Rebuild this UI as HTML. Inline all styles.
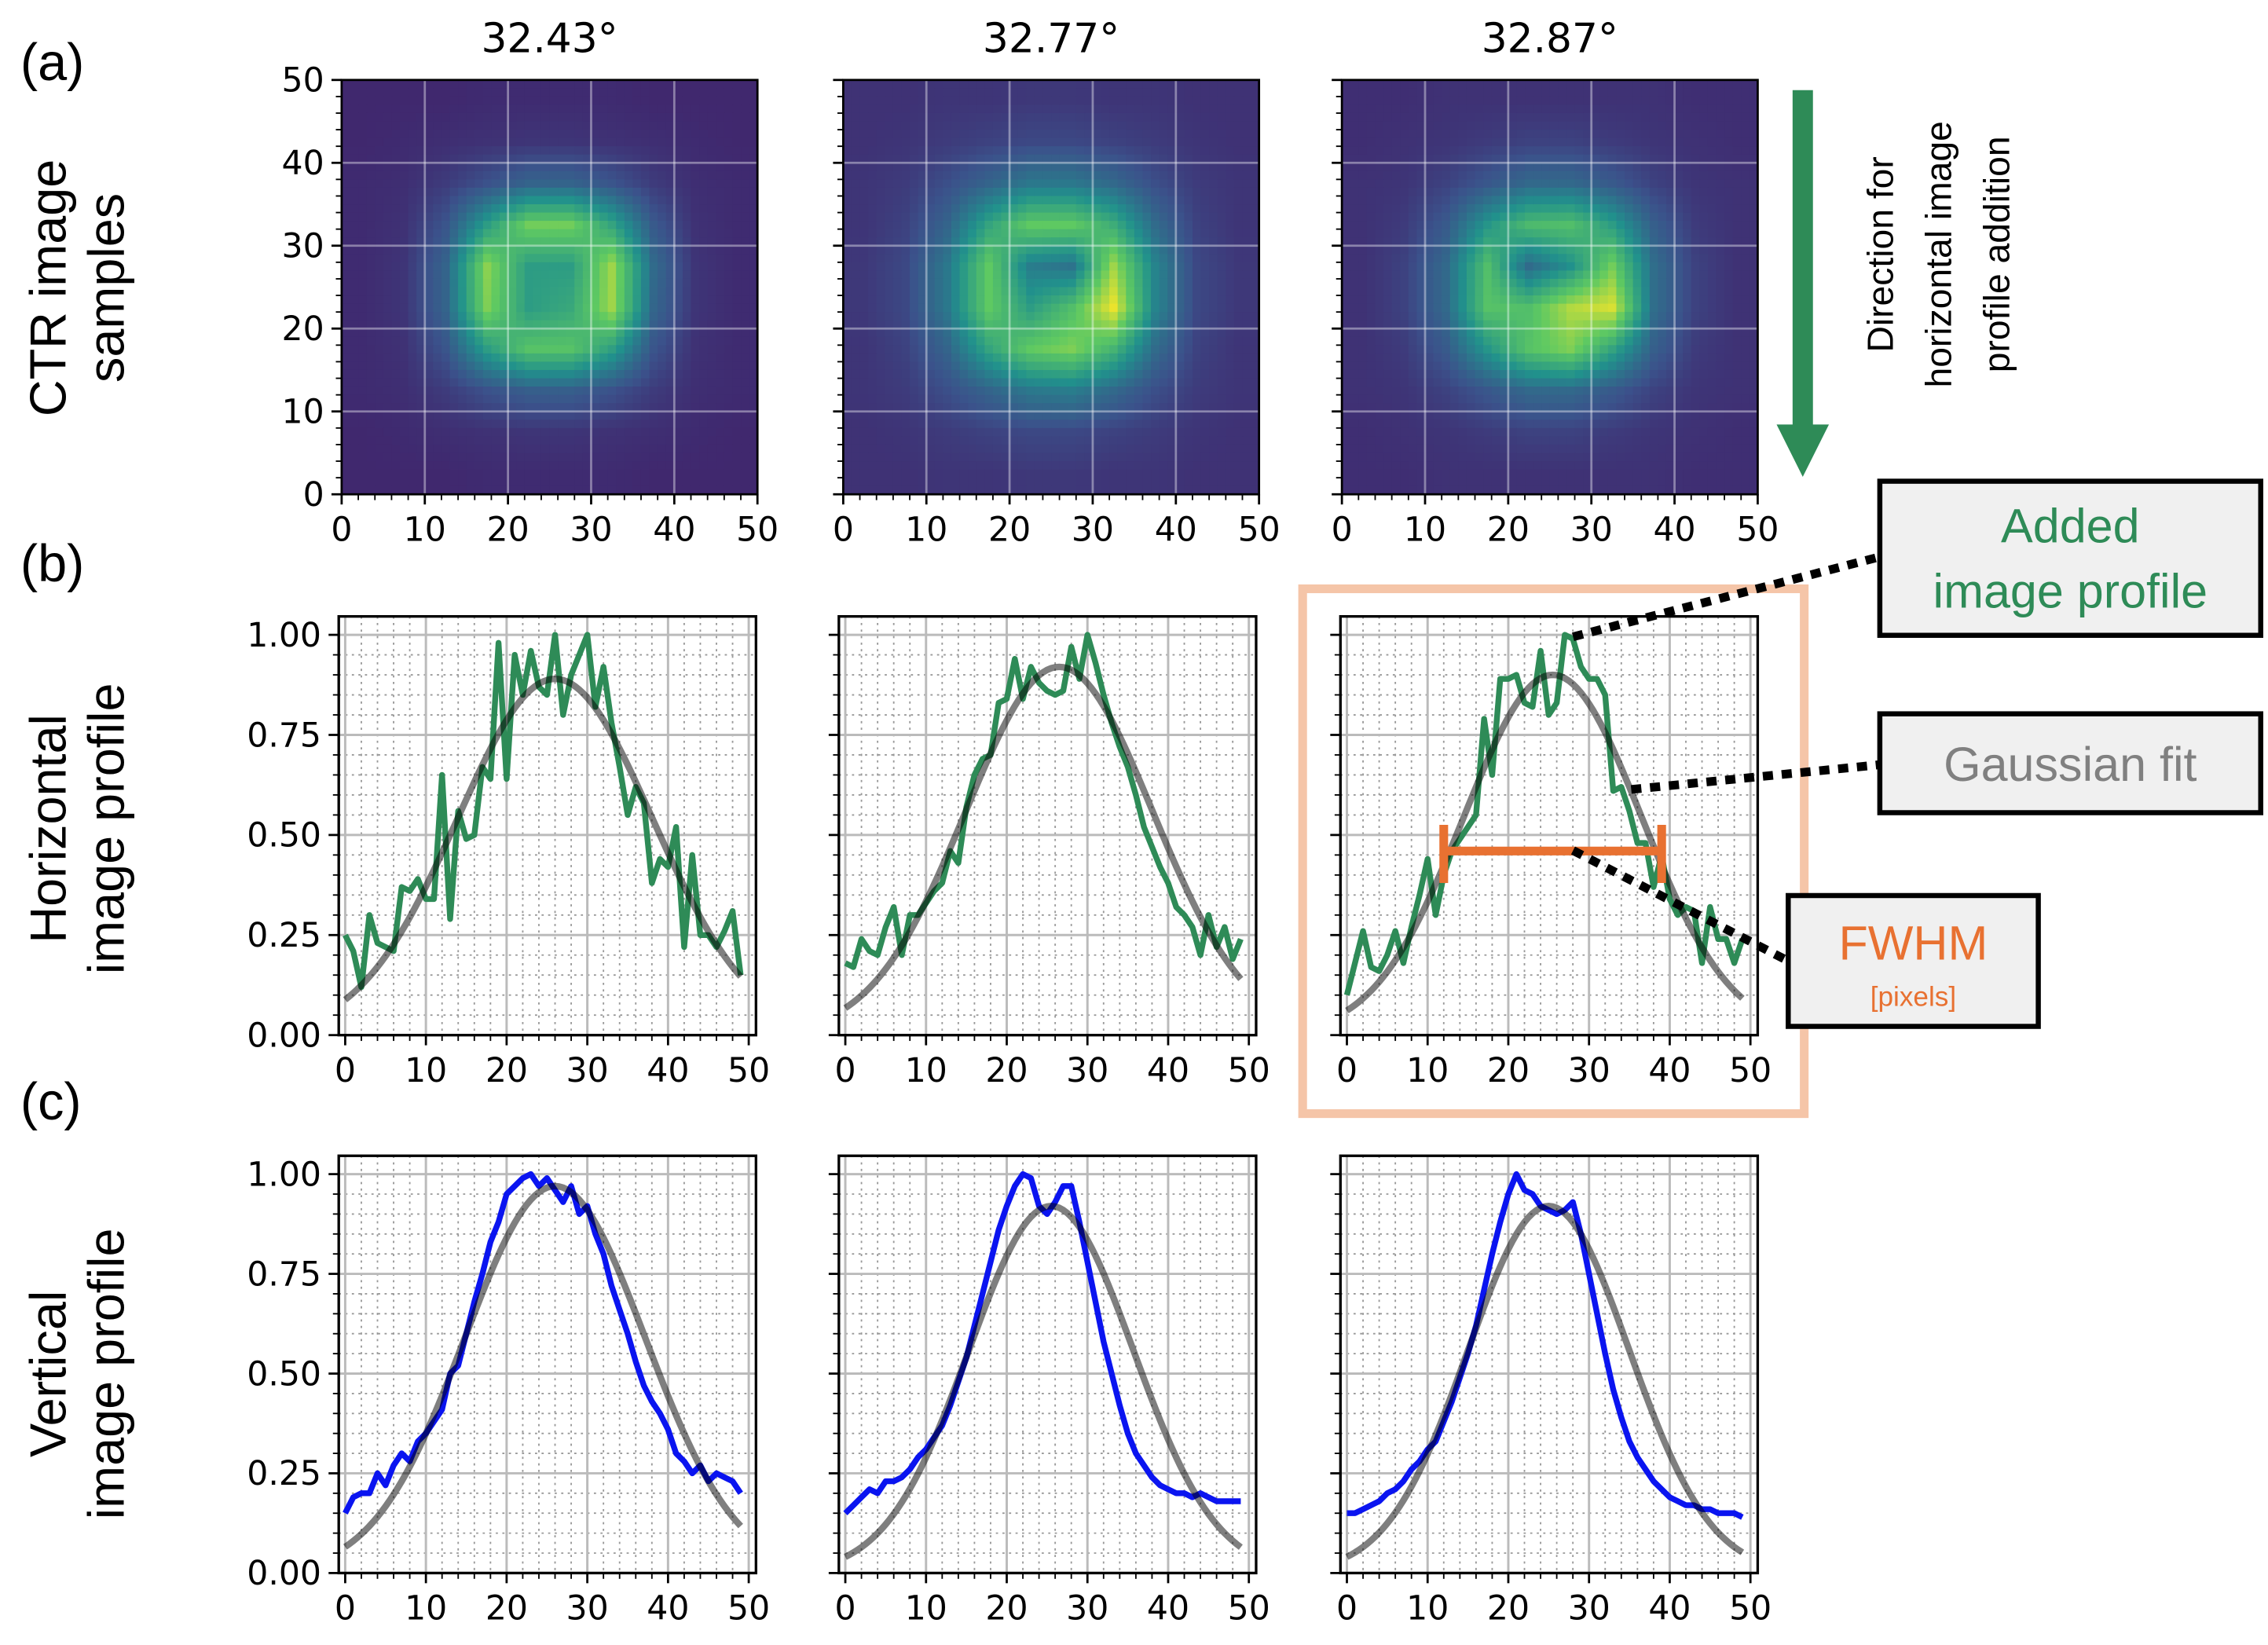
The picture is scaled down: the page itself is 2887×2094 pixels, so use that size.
<!DOCTYPE html>
<html><head><meta charset="utf-8"><style>
html,body{margin:0;padding:0;background:#fff;}
svg{display:block;}
text{font-family:"DejaVu Sans","Liberation Sans",sans-serif;}
.ann{font-family:"Liberation Sans",sans-serif;}
</style></head><body>
<svg id="fig" xmlns="http://www.w3.org/2000/svg" width="2887" height="2094" viewBox="0 0 1560 1131.5" preserveAspectRatio="none">
<rect x="0" y="0" width="1560" height="1131.5" fill="#fff"/>
</svg>
<script>
// ---------- data ----------
const xTicks=[0,10,20,30,40,50];
const yTicksImg=[0,10,20,30,40,50];
const yTicksProf=[0,0.25,0.5,0.75,1.0];
const yTickLabelsProf=["0.00","0.25","0.50","0.75","1.00"];
const titles=["32.43°","32.77°","32.87°"];
// coarse heatmap intensities (rows top->bottom, 10x10, upsampled to 50x50)
const heat1=[
[.12,.12,.12,.13,.13,.13,.13,.12,.12,.12],
[.12,.13,.14,.15,.16,.16,.15,.14,.13,.12],
[.13,.14,.18,.25,.32,.32,.26,.18,.14,.13],
[.13,.15,.26,.55,.78,.78,.58,.28,.15,.13],
[.13,.16,.32,.82,.55,.55,.85,.35,.16,.13],
[.13,.16,.32,.8,.55,.6,.85,.33,.16,.13],
[.13,.15,.26,.55,.72,.72,.56,.26,.15,.13],
[.13,.14,.18,.25,.3,.3,.25,.18,.14,.13],
[.12,.13,.14,.15,.16,.16,.15,.14,.13,.12],
[.12,.12,.12,.13,.13,.13,.13,.12,.12,.12]];
const heat2=[
[.15,.15,.16,.16,.17,.17,.16,.16,.15,.15],
[.15,.16,.18,.2,.22,.22,.2,.18,.16,.15],
[.16,.18,.24,.32,.4,.4,.34,.24,.18,.16],
[.16,.2,.32,.58,.75,.75,.62,.35,.2,.16],
[.17,.22,.4,.75,.42,.38,.85,.45,.22,.17],
[.17,.22,.4,.75,.55,.7,.97,.45,.22,.17],
[.16,.2,.32,.58,.75,.8,.65,.35,.2,.16],
[.16,.18,.24,.32,.4,.42,.34,.24,.18,.16],
[.15,.16,.18,.2,.22,.22,.2,.18,.16,.15],
[.15,.15,.16,.16,.17,.17,.16,.16,.15,.15]];
const heat3=[
[.14,.14,.15,.15,.15,.15,.15,.15,.14,.14],
[.14,.15,.16,.18,.2,.2,.18,.16,.15,.14],
[.15,.16,.2,.27,.34,.34,.28,.2,.16,.15],
[.15,.18,.28,.52,.68,.7,.55,.3,.18,.15],
[.15,.2,.34,.7,.35,.5,.78,.36,.2,.15],
[.15,.2,.34,.72,.7,.88,.94,.36,.2,.15],
[.15,.18,.28,.52,.72,.8,.58,.3,.18,.15],
[.15,.16,.2,.27,.34,.34,.28,.2,.16,.15],
[.14,.15,.16,.18,.2,.2,.18,.16,.15,.14],
[.14,.14,.15,.15,.15,.15,.15,.15,.14,.14]];
const hProf1=[.25,.21,.12,.30,.23,.22,.21,.37,.36,.39,.34,.34,.65,.29,.56,.49,.50,.67,.64,.98,.64,.95,.85,.96,.87,.85,1.0,.80,.90,.95,1.0,.82,.92,.78,.67,.55,.62,.58,.38,.44,.42,.52,.22,.45,.25,.25,.22,.26,.31,.15];
const hProf2=[.18,.17,.24,.21,.20,.27,.32,.20,.30,.30,.33,.36,.38,.46,.43,.57,.65,.69,.70,.83,.84,.94,.84,.92,.88,.86,.85,.86,.97,.89,1.0,.93,.85,.78,.72,.67,.60,.52,.47,.42,.38,.32,.30,.27,.20,.30,.22,.27,.19,.24];
const hProf3=[.10,.18,.26,.17,.16,.20,.26,.18,.27,.35,.44,.30,.40,.46,.49,.52,.55,.79,.65,.89,.89,.90,.83,.82,.96,.80,.83,1.0,.99,.92,.89,.89,.85,.61,.62,.56,.48,.48,.37,.45,.34,.30,.32,.31,.18,.32,.24,.24,.18,.24];
const vProf1=[.15,.19,.20,.20,.25,.22,.27,.30,.28,.33,.35,.38,.41,.50,.52,.60,.68,.75,.83,.88,.95,.97,.99,1.0,.97,.99,.96,.93,.97,.90,.92,.85,.80,.72,.66,.60,.53,.47,.43,.40,.36,.30,.28,.25,.27,.23,.25,.24,.23,.20];
const vProf2=[.15,.17,.19,.21,.20,.23,.23,.24,.26,.29,.31,.34,.37,.42,.48,.54,.62,.70,.78,.86,.92,.97,1.0,.99,.92,.90,.93,.97,.97,.88,.78,.68,.58,.50,.42,.35,.30,.27,.24,.22,.21,.20,.20,.19,.20,.19,.18,.18,.18,.18];
const vProf3=[.15,.15,.16,.17,.18,.20,.21,.23,.26,.28,.31,.33,.38,.43,.49,.55,.62,.71,.80,.88,.95,1.0,.96,.95,.92,.91,.90,.91,.93,.85,.75,.65,.55,.46,.39,.33,.29,.26,.23,.21,.19,.18,.17,.17,.16,.16,.15,.15,.15,.14];
// gaussian fit params: amplitude, center, sigma
const gAmp=[0.89,0.92,0.90,0.97,0.92,0.92];
const gCen=[26,26.5,25.5,26,25.5,25];
const gSig=[12.1,11.6,11.0,11.2,10.2,10.0];
const fwhmStart=12, fwhmEnd=39, fwhmLevel=0.46;

// ---------- helpers ----------
const NS="http://www.w3.org/2000/svg";
const svg=document.getElementById('fig');
function mk(tag,attrs,parent){const e=document.createElementNS(NS,tag);for(const k in attrs)e.setAttribute(k,attrs[k]);(parent||svg).appendChild(e);return e;}
function txt(s,attrs,parent){const e=mk('text',attrs,parent);e.textContent=s;return e;}
const stops=[[0,[68,1,84]],[0.25,[59,82,139]],[0.5,[33,145,140]],[0.75,[94,201,98]],[1,[253,231,37]]];
function viridis(v){v=Math.max(0,Math.min(1,v));for(let i=1;i<stops.length;i++){if(v<=stops[i][0]){const a=stops[i-1],b=stops[i];const t=(v-a[0])/(b[0]-a[0]);const c=a[1].map((x,k)=>Math.round(x+(b[1][k]-x)*t));return`rgb(${c[0]},${c[1]},${c[2]})`;}}return'#fde725';}

const colX=[[235,521],[580,866],[923,1209]];
const profX=[[233,520],[577,864],[922,1209]];

// ---------- heatmaps (row a) ----------
const heats=[heat1,heat2,heat3];
heats.forEach((H,p)=>{
  const g=mk('g',{});
  
  
  const [x0,x1]=colX[p], y0=55,y1=340;
  const sx=v=>x0+(v/50)*(x1-x0), sy=v=>y1-(v/50)*(y1-y0);
  for(let r=0;r<50;r++)for(let c=0;c<50;c++){
    let u=(c+0.5)/5-0.5, w=(r+0.5)/5-0.5;
    u=Math.max(0,Math.min(9,u)); w=Math.max(0,Math.min(9,w));
    const i0=Math.floor(u),j0=Math.floor(w),i1=Math.min(9,i0+1),j1=Math.min(9,j0+1),fu=u-i0,fw=w-j0;
    const v=H[j0][i0]*(1-fu)*(1-fw)+H[j0][i1]*fu*(1-fw)+H[j1][i0]*(1-fu)*fw+H[j1][i1]*fu*fw;
    mk('rect',{x:sx(c).toFixed(2),y:sy(50-r).toFixed(2),width:((x1-x0)/50+0.4).toFixed(2),height:((y1-y0)/50+0.4).toFixed(2),fill:viridis(v)},g);
  }
  xTicks.forEach(t=>{if(t>0&&t<50){mk('line',{x1:sx(t),x2:sx(t),y1:y0,y2:y1,stroke:'#fff','stroke-opacity':0.4,'stroke-width':1.5},g);mk('line',{y1:sy(t),y2:sy(t),x1:x0,x2:x1,stroke:'#fff','stroke-opacity':0.4,'stroke-width':1.5},g);}});
  mk('rect',{x:x0,y:y0,width:x1-x0,height:y1-y0,fill:'none',stroke:'#000','stroke-width':1.5},g);
  for(let t=0;t<=50;t+=2){mk('line',{x1:sx(t),x2:sx(t),y1:y1,y2:y1+4,stroke:'#000','stroke-width':1},g);mk('line',{y1:sy(t),y2:sy(t),x1:x0,x2:x0-4,stroke:'#000','stroke-width':1},g);}
  xTicks.forEach(t=>{mk('line',{x1:sx(t),x2:sx(t),y1:y1,y2:y1+7,stroke:'#000','stroke-width':1.5},g);const l=txt(String(t),{x:sx(t),y:y1+32,'font-size':23,'text-anchor':'middle'},g);});
  yTicksImg.forEach(t=>{mk('line',{y1:sy(t),y2:sy(t),x1:x0,x2:x0-7,stroke:'#000','stroke-width':1.5},g);if(p==0){const l=txt(String(t),{x:x0-12,y:sy(t)+8,'font-size':23,'text-anchor':'end'},g);}});
  const tt=txt(titles[p],{x:(x0+x1)/2,y:36,'font-size':28,'text-anchor':'middle'});
  
  
});

// ---------- profile panels ----------
function panel(p,rowTop,rowBot,series,color,gi,name){
  const g=mk('g',{});
  
  
  const [x0,x1]=profX[p];
  const xmin=-0.8,xmax=50.9,ymax=1.046;
  const sx=v=>x0+(v-xmin)/(xmax-xmin)*(x1-x0), sy=v=>rowBot-(v/ymax)*(rowBot-rowTop);
  mk('rect',{x:x0,y:rowTop,width:x1-x0,height:rowBot-rowTop,fill:'#fff'},g);
  for(let t=0;t<=50;t+=2){if(t%10)mk('line',{x1:sx(t),x2:sx(t),y1:rowTop,y2:rowBot,stroke:'#999','stroke-width':1,'stroke-dasharray':'1.5 3'},g);}
  for(let k=1;k<=20;k++){const t=k*0.05;if(k%5)mk('line',{y1:sy(t),y2:sy(t),x1:x0,x2:x1,stroke:'#999','stroke-width':1,'stroke-dasharray':'1.5 3'},g);}
  xTicks.forEach(t=>mk('line',{x1:sx(t),x2:sx(t),y1:rowTop,y2:rowBot,stroke:'#bbb','stroke-width':1.6},g));
  yTicksProf.forEach(t=>mk('line',{y1:sy(t),y2:sy(t),x1:x0,x2:x1,stroke:'#bbb','stroke-width':1.6},g));
  const pts=series.map((v,i)=>sx(i).toFixed(2)+','+sy(v).toFixed(2)).join(' ');
  const dl=mk('polyline',{points:pts,fill:'none',stroke:color,'stroke-width':4,'stroke-linejoin':'round'},g);
  
  
  const gp=[];for(let i=0;i<=98;i++){const x=i/2;gp.push(sx(x).toFixed(2)+','+sy(gAmp[gi]*Math.exp(-((x-gCen[gi])**2)/(2*gSig[gi]**2))).toFixed(2));}
  const gl=mk('polyline',{points:gp.join(' '),fill:'none',stroke:'#000','stroke-opacity':0.5,'stroke-width':4.5},g);
  
  
  mk('rect',{x:x0,y:rowTop,width:x1-x0,height:rowBot-rowTop,fill:'none',stroke:'#000','stroke-width':1.8},g);
  for(let t=0;t<=50;t+=2)mk('line',{x1:sx(t),x2:sx(t),y1:rowBot,y2:rowBot+4,stroke:'#000','stroke-width':1},g);
  for(let k=0;k<=20;k++)mk('line',{y1:sy(k*0.05),y2:sy(k*0.05),x1:x0,x2:x0-4,stroke:'#000','stroke-width':1},g);
  xTicks.forEach(t=>{mk('line',{x1:sx(t),x2:sx(t),y1:rowBot,y2:rowBot+7,stroke:'#000','stroke-width':1.5},g);const l=txt(String(t),{x:sx(t),y:rowBot+32,'font-size':23,'text-anchor':'middle'},g);});
  yTicksProf.forEach((t,k)=>{mk('line',{y1:sy(t),y2:sy(t),x1:x0,x2:x0-7,stroke:'#000','stroke-width':1.5},g);if(p==0){const l=txt(yTickLabelsProf[k],{x:x0-12,y:sy(t)+8,'font-size':23,'text-anchor':'end'},g);}});
  return {sx,sy};
}
const hs=[hProf1,hProf2,hProf3], vs=[vProf1,vProf2,vProf3];
let b3;
hs.forEach((s,p)=>{const r=panel(p,424,712,s,'#2e8b57',p,'horizontal-profile-'+(p+1));if(p==2)b3=r;});
vs.forEach((s,p)=>panel(p,795,1082,s,'#0a14f0',3+p,'vertical-profile-'+(p+1)));

// FWHM bar
(function(){
  const g=mk('g',{});
  
  
  const y=b3.sy(fwhmLevel),xa=b3.sx(fwhmStart),xb=b3.sx(fwhmEnd);
  mk('line',{x1:xa,x2:xb,y1:y,y2:y,stroke:'#e87131','stroke-width':6},g);
  mk('line',{x1:xa,x2:xa,y1:y-18,y2:y+22,stroke:'#e87131','stroke-width':6},g);
  mk('line',{x1:xb,x2:xb,y1:y-18,y2:y+22,stroke:'#e87131','stroke-width':6},g);
})();

const hf=mk('rect',{x:896,y:405,width:345,height:361,fill:'none',stroke:'#f5c5a8','stroke-width':6});



[['(a)',55],['(b)',400],['(c)',770]].forEach(([s,y])=>{const t=txt(s,{x:14,y:y,'font-size':36,class:'ann'});});
function ylab(lines,cy,name){const g=mk('g',{transform:`translate(0,${cy}) rotate(-90)`});lines.forEach((s,i)=>txt(s,{x:0,y:45+i*40,'font-size':35,'text-anchor':'middle',class:'ann'},g));}
ylab(['CTR image','samples'],198,'y-axis-title-images');
ylab(['Horizontal','image profile'],570,'y-axis-title-horizontal');
ylab(['Vertical','image profile'],945,'y-axis-title-vertical');

(function(){const g=mk('g',{});
mk('rect',{x:1233,y:62,width:14,height:232,fill:'#2e8b57'},g);
mk('polygon',{points:'1222,292 1258,292 1240,328',fill:'#2e8b57'},g);
const t=mk('g',{transform:'translate(0,175) rotate(-90)'},g);
['Direction for','horizontal image','profile addition'].forEach((s,i)=>txt(s,{x:0,y:1302+i*40,'font-size':25,'text-anchor':'middle',class:'ann'},t));
})();

function box(x,y,w,h,name){const r=mk('rect',{x,y,width:w,height:h,fill:'#f0f0f0',stroke:'#000','stroke-width':3.5});}
box(1293,331,262,106,'added-profile-callout');
txt('Added',{x:1424,y:373,'font-size':33,'text-anchor':'middle',fill:'#2e8b57',class:'ann'});
txt('image profile',{x:1424,y:418,'font-size':33,'text-anchor':'middle',fill:'#2e8b57',class:'ann'});
box(1293,491,262,68,'gaussian-fit-callout');
txt('Gaussian fit',{x:1424,y:537,'font-size':33,'text-anchor':'middle',fill:'#808080',class:'ann'});
box(1230,616,172,90,'fwhm-callout');
txt('FWHM',{x:1316,y:660,'font-size':33,'text-anchor':'middle',fill:'#e87131',class:'ann'});
txt('[pixels]',{x:1316,y:692,'font-size':19,'text-anchor':'middle',fill:'#e87131',class:'ann'});
[[1082,438,1293,383],[1122,543,1293,526],[1082,585,1228,660]].forEach(c=>{const l=mk('line',{x1:c[0],y1:c[1],x2:c[2],y2:c[3],stroke:'#000','stroke-width':6,'stroke-dasharray':'7 6'});});
</script>
</body></html>
